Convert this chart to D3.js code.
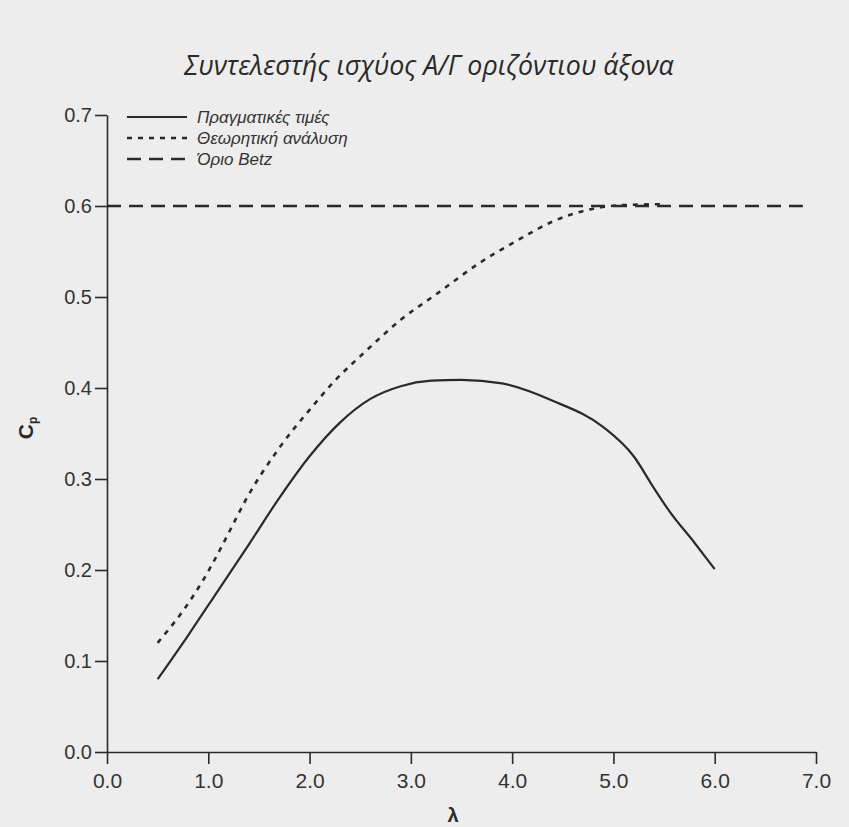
<!DOCTYPE html>
<html><head><meta charset="utf-8">
<script src="https://cdn.jsdelivr.net/npm/d3@7/dist/d3.min.js"></script>
<style>body{margin:0;background:#ededed}svg{display:block}</style>
</head><body><svg id="c" width="849" height="827"></svg>
<script>
// ---- data ----
const chartTitle = "Συντελεστής ισχύος Α/Γ οριζόντιου άξονα";
const xLabel = "λ";
const yLabelMain = "C";
const yLabelSub = "p";
const seriesNames = ["Πραγματικές τιμές", "Θεωρητική ανάλυση", "Όριο Betz"];
const xTicks = [0, 1, 2, 3, 4, 5, 6, 7];
const yTicks = [0, 0.1, 0.2, 0.3, 0.4, 0.5, 0.6, 0.7];

const actualLambda = [0.5, 0.8, 1.1, 1.4, 1.7, 2.0, 2.3, 2.6, 2.9, 3.2, 3.5, 3.9, 4.4, 4.9, 5.2, 5.4, 5.55, 5.8, 6.0];
const actualCp     = [0.08, 0.128, 0.178, 0.228, 0.279, 0.325, 0.362, 0.388, 0.402, 0.408, 0.409, 0.405, 0.386, 0.357, 0.325, 0.29, 0.265, 0.23, 0.201];

const theoryLambda = [0.5, 0.8, 0.95, 1.1, 1.23, 1.37, 1.7, 2.0, 2.25, 2.56, 2.9, 3.25, 3.7, 4.05, 4.4, 4.8, 5.1, 5.5];
const theoryCp     = [0.12, 0.163, 0.189, 0.219, 0.247, 0.277, 0.334, 0.376, 0.408, 0.441, 0.475, 0.503, 0.539, 0.562, 0.583, 0.597, 0.601, 0.602];

const betzLambda = [0, 6.87];
const betzCp     = [0.6, 0.6];

// ---- chart ----
const svg = d3.select("#c");
const ink = "#2a2a2a";
const x = d3.scaleLinear().domain([0, 7]).range([107, 816]);
const y = d3.scaleLinear().domain([0, 0.7]).range([752, 115]);

// title
const t = svg.append("text")
  .attr("x", 429).attr("y", 75)
  .attr("text-anchor", "middle")
  .attr("font-family", "'Open Sans', 'Liberation Sans', sans-serif")
  .attr("font-style", "italic").attr("font-weight", 400)
  .attr("font-size", 20).attr("fill", ink)
  .text(chartTitle);
const tw = t.node().getComputedTextLength();
t.attr("font-size", 20 * 490 / tw);

// axes
const fmt = d3.format(".1f");
const gy = svg.append("g").attr("transform", `translate(${x(0)},0)`)
  .call(d3.axisLeft(y).tickValues(yTicks).tickFormat(fmt).tickSize(12).tickSizeOuter(0).tickPadding(3));
const gx = svg.append("g").attr("transform", `translate(0,${y(0)})`)
  .call(d3.axisBottom(x).tickValues(xTicks).tickFormat(fmt).tickSize(12).tickSizeOuter(0).tickPadding(9));
[gy, gx].forEach(g => {
  g.selectAll("path,line").attr("stroke", ink).attr("stroke-width", 1.6);
  g.selectAll("text").attr("fill", "#333")
    .attr("font-family", "'Liberation Sans', Arial, sans-serif");
});
gy.selectAll("text").attr("font-size", 20);
gx.selectAll("text").attr("font-size", 21);

// axis labels
svg.append("text").attr("x", 453).attr("y", 822)
  .attr("text-anchor", "middle").attr("font-weight", "bold")
  .attr("font-family", "'Liberation Sans', Arial, sans-serif")
  .attr("font-size", 20).attr("fill", ink).text(xLabel);
const yl = svg.append("text")
  .attr("transform", "translate(33,428) rotate(-90)")
  .attr("text-anchor", "middle").attr("font-weight", "bold")
  .attr("font-family", "'Liberation Sans', Arial, sans-serif")
  .attr("font-size", 21).attr("fill", ink);
yl.append("tspan").text(yLabelMain);
yl.append("tspan").attr("font-size", 12).attr("dy", 4).text(yLabelSub);

// lines
const line = d3.line().x(d => x(d[0])).y(d => y(d[1])).curve(d3.curveMonotoneX);
const styles = [
  { dash: null, w: 2.2 },
  { dash: "5,6", w: 2.6 },
  { dash: "14,8", w: 2.6 }
];
const seriesData = [
  d3.zip(actualLambda, actualCp),
  d3.zip(theoryLambda, theoryCp),
  d3.zip(betzLambda, betzCp)
];
seriesData.forEach((d, i) => {
  svg.append("path").datum(d).attr("d", line)
    .attr("fill", "none").attr("stroke", ink)
    .attr("stroke-width", styles[i].w)
    .attr("stroke-dasharray", styles[i].dash);
});

// legend
const lg = svg.append("g");
seriesNames.forEach((name, i) => {
  const yy = 117 + i * 21;
  lg.append("line").attr("x1", 127).attr("x2", 187).attr("y1", yy).attr("y2", yy)
    .attr("stroke", ink).attr("stroke-width", styles[i].w)
    .attr("stroke-dasharray", styles[i].dash);
  lg.append("text").attr("x", 197).attr("y", yy + 6)
    .attr("font-family", "'Liberation Sans', Arial, sans-serif")
    .attr("font-style", "italic").attr("font-size", 17).attr("fill", "#333")
    .text(name);
});
</script></body></html>
